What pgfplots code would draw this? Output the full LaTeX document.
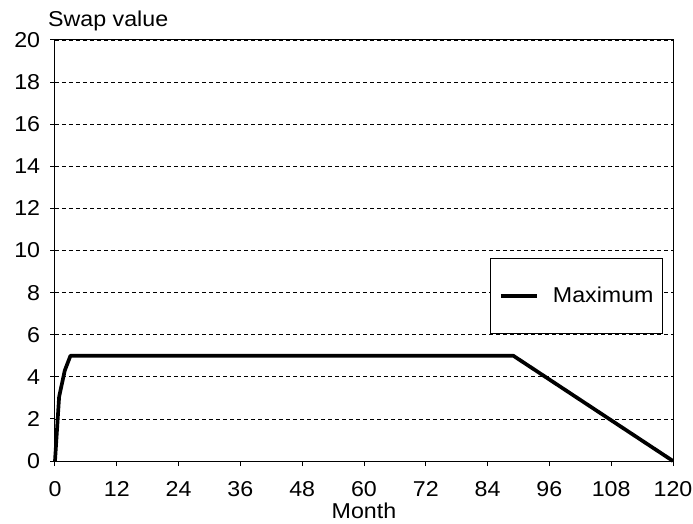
\documentclass[border=0pt]{standalone}
\usepackage{fontspec}
\setmainfont{Liberation Sans}[FakeStretch=1.08]
\usepackage{pgfplots}
\pgfplotsset{compat=1.18}
\begin{document}
\fontsize{21.5}{25}\selectfont
\begin{tikzpicture}
\path[use as bounding box] (-55pt,-62pt) rectangle (638pt,461pt);
\begin{axis}[
  at={(0pt,0pt)}, anchor=south west,
  scale only axis, width=618pt, height=421pt,
  xmin=0, xmax=120, ymin=0, ymax=20,
  xtick={0,12,...,120}, ytick={0,2,...,20},
  tick align=outside, major tick length=5pt,
  tick style={black, line width=1pt},
  axis line style={line width=1pt},
  xtick pos=bottom, ytick pos=left,
  ymajorgrids, grid style={black, line width=0.8pt, dash pattern=on 4pt off 3pt},
  /pgf/number format/assume math mode=true,
  ticklabel style={font=\fontsize{21.5}{25}\selectfont},
  xticklabel style={inner sep=0pt, yshift=-15pt},
  yticklabel style={inner sep=0pt, xshift=-9.7pt},
  legend style={at={(0.9833,0.4815)}, anchor=north east, draw=black, line width=0.8pt,
    inner xsep=8.7pt, inner ysep=27.8pt, fill=white, nodes={inner sep=0pt},
    font=\fontsize{21.5}{25}\selectfont},
  legend image code/.code={\path (0pt,0pt) -- (35.7pt,0pt); \draw[#1] (10.7pt,0pt) -- (35.7pt,0pt);},
  clip=false,
]
\addplot[black, line width=3.7pt, line join=round] coordinates {
  (0,0) (0.8,3.05) (1.9,4.3) (3,5) (89,5) (120,0)
};
\addlegendentry{\hspace*{14.5pt}Maximum}
\node[anchor=base west, inner sep=0pt, xshift=-7pt, yshift=13.3pt] at (rel axis cs:0,1) {Swap value};
\node[anchor=base, inner sep=0pt, yshift=-57.5pt] at (rel axis cs:0.5,0) {Month};
\end{axis}
\end{tikzpicture}
\end{document}
